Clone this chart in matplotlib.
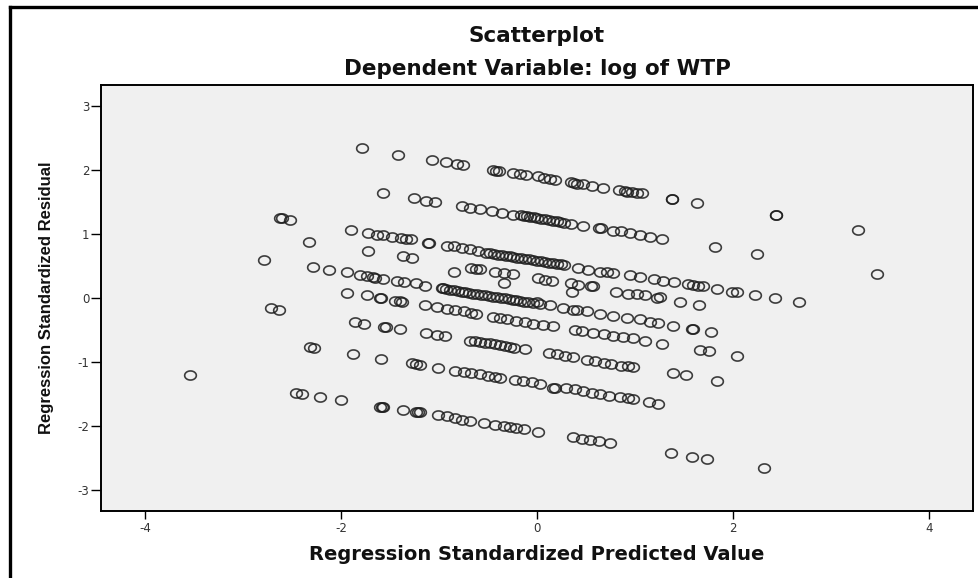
import numpy as np
import matplotlib
matplotlib.use("Agg")
import matplotlib.pyplot as plt
from matplotlib.path import Path
from matplotlib.lines import Line2D

# ---------------- data ----------------
band1 = [(-1.79, 2.34), (-1.415, 2.24), (-1.07, 2.16), (-0.93, 2.12), (-0.82, 2.09), (-0.76, 2.08),
         (-0.45, 2.00), (-0.42, 1.99), (-0.39, 1.98), (-0.24, 1.96), (-0.17, 1.94), (-0.11, 1.92),
         (0.01, 1.90), (0.07, 1.87), (0.13, 1.855), (0.18, 1.84), (0.35, 1.81), (0.38, 1.80),
         (0.41, 1.79), (0.47, 1.78), (0.56, 1.75), (0.67, 1.72), (0.84, 1.69), (0.90, 1.67),
         (0.92, 1.66), (0.97, 1.65), (1.02, 1.645), (1.07, 1.64), (1.38, 1.55), (1.38, 1.55),
         (1.63, 1.49), (2.44, 1.29), (2.44, 1.29), (3.28, 1.07)]

band2 = [(-1.57, 1.64), (-1.26, 1.56), (-1.13, 1.52), (-1.04, 1.50), (-0.77, 1.44), (-0.68, 1.41),
         (-0.58, 1.385), (-0.46, 1.365), (-0.36, 1.33), (-0.25, 1.30), (-0.16, 1.29), (-0.13, 1.28),
         (-0.10, 1.275), (-0.07, 1.27), (-0.03, 1.26), (0.00, 1.25), (0.04, 1.24), (0.08, 1.23),
         (0.12, 1.22), (0.16, 1.21), (0.20, 1.20), (0.235, 1.195), (0.28, 1.18), (0.35, 1.16),
         (0.47, 1.125), (0.63, 1.09), (0.65, 1.09), (0.78, 1.05), (0.86, 1.04), (0.95, 1.01),
         (1.05, 0.98), (1.15, 0.96), (1.28, 0.93), (1.82, 0.79), (2.25, 0.69), (3.47, 0.38)]

band3 = [(-2.62, 1.25), (-2.60, 1.25), (-2.52, 1.22), (-1.90, 1.06), (-1.72, 1.01), (-1.63, 0.99),
         (-1.57, 0.98), (-1.48, 0.96), (-1.39, 0.94), (-1.34, 0.93), (-1.29, 0.92), (-1.11, 0.865),
         (-1.10, 0.865), (-0.92, 0.82), (-0.85, 0.81), (-0.77, 0.78), (-0.68, 0.76), (-0.60, 0.74),
         (-0.52, 0.71), (-0.48, 0.70), (-0.44, 0.69), (-0.40, 0.68), (-0.36, 0.67), (-0.32, 0.66),
         (-0.28, 0.65), (-0.24, 0.64), (-0.20, 0.63), (-0.16, 0.62), (-0.12, 0.615), (-0.08, 0.605),
         (-0.04, 0.595), (0.00, 0.585), (0.04, 0.575), (0.08, 0.565), (0.12, 0.555), (0.16, 0.545),
         (0.20, 0.535), (0.24, 0.525), (0.28, 0.515), (0.42, 0.47), (0.52, 0.44), (0.64, 0.41),
         (0.71, 0.40), (0.78, 0.385), (0.95, 0.36), (1.05, 0.33), (1.19, 0.29), (1.29, 0.27),
         (1.40, 0.245), (1.54, 0.22), (1.595, 0.20), (1.64, 0.19), (1.69, 0.18), (1.84, 0.14),
         (1.99, 0.10), (2.04, 0.09), (2.22, 0.05), (2.43, 0.0), (2.67, -0.07)]

band3b = [(-2.33, 0.88), (-1.72, 0.73), (-1.37, 0.65), (-1.28, 0.63), (-0.67, 0.47), (-0.62, 0.46),
          (-0.58, 0.45), (-0.43, 0.41), (-0.34, 0.385), (-0.24, 0.37), (0.01, 0.31), (0.08, 0.28),
          (0.15, 0.265), (0.35, 0.23), (0.42, 0.21), (0.55, 0.18), (0.57, 0.18), (0.81, 0.10),
          (0.93, 0.07), (1.02, 0.06), (1.10, 0.05), (1.22, 0.005), (1.255, 0.01), (1.46, -0.06),
          (1.65, -0.11)]

loose = [(-0.85, 0.41), (-0.34, 0.23), (0.36, 0.10)]

band4 = [(-2.79, 0.60), (-2.29, 0.48), (-2.12, 0.44), (-1.94, 0.40), (-1.81, 0.36), (-1.74, 0.35),
         (-1.67, 0.33), (-1.65, 0.32), (-1.57, 0.30), (-1.43, 0.27), (-1.36, 0.25), (-1.24, 0.23),
         (-1.14, 0.19), (-0.97, 0.15), (-0.96, 0.15), (-0.93, 0.14), (-0.89, 0.13), (-0.85, 0.12),
         (-0.81, 0.11), (-0.77, 0.10), (-0.73, 0.09), (-0.69, 0.08), (-0.65, 0.07), (-0.61, 0.06),
         (-0.57, 0.05), (-0.53, 0.04), (-0.49, 0.03), (-0.45, 0.02), (-0.41, 0.01), (-0.37, 0.0),
         (-0.33, -0.005), (-0.29, -0.015), (-0.25, -0.025), (-0.21, -0.035), (-0.17, -0.045),
         (-0.13, -0.055), (-0.09, -0.065), (-0.04, -0.075), (0.0, -0.07), (0.03, -0.09),
         (0.13, -0.11), (0.27, -0.15), (0.37, -0.18), (0.405, -0.19), (0.51, -0.21), (0.64, -0.245),
         (0.78, -0.275), (0.915, -0.31), (1.05, -0.33), (1.15, -0.37), (1.24, -0.39), (1.39, -0.44),
         (1.58, -0.48), (1.59, -0.48), (1.78, -0.53)]

band5 = [(-1.94, 0.08), (-1.74, 0.04), (-1.60, 0.0), (-1.59, 0.0), (-1.45, -0.04), (-1.40, -0.05),
         (-1.38, -0.06), (-1.14, -0.11), (-1.02, -0.14), (-0.92, -0.17), (-0.84, -0.19), (-0.75, -0.21),
         (-0.67, -0.23), (-0.62, -0.25), (-0.45, -0.29), (-0.38, -0.31), (-0.31, -0.33), (-0.21, -0.36),
         (-0.12, -0.38), (-0.04, -0.40), (0.06, -0.42), (0.16, -0.44), (0.39, -0.50), (0.46, -0.52),
         (0.57, -0.54), (0.68, -0.57), (0.78, -0.59), (0.88, -0.61), (0.98, -0.63), (1.10, -0.67),
         (1.28, -0.72), (1.66, -0.81), (1.76, -0.83), (2.04, -0.91)]

band6 = [(-2.72, -0.16), (-2.63, -0.18), (-1.86, -0.37), (-1.77, -0.40), (-1.56, -0.45), (-1.54, -0.45),
         (-1.40, -0.48), (-1.13, -0.55), (-1.02, -0.58), (-0.94, -0.60), (-0.68, -0.67), (-0.63, -0.68),
         (-0.58, -0.69), (-0.53, -0.70), (-0.48, -0.71), (-0.43, -0.72), (-0.38, -0.74), (-0.33, -0.75),
         (-0.28, -0.76), (-0.23, -0.78), (-0.12, -0.80), (0.12, -0.86), (0.20, -0.88), (0.29, -0.90),
         (0.37, -0.93), (0.51, -0.97), (0.59, -0.98), (0.68, -1.01), (0.76, -1.03), (0.86, -1.06),
         (0.93, -1.07), (0.98, -1.08), (1.39, -1.18), (1.52, -1.21), (1.84, -1.29)]

band7 = [(-2.32, -0.77), (-2.28, -0.78), (-1.88, -0.875), (-1.59, -0.95), (-1.28, -1.02), (-1.24, -1.03),
         (-1.19, -1.04), (-1.01, -1.10), (-0.84, -1.14), (-0.75, -1.15), (-0.67, -1.18), (-0.58, -1.19),
         (-0.50, -1.22), (-0.43, -1.24), (-0.38, -1.255), (-0.22, -1.28), (-0.14, -1.30), (-0.05, -1.32),
         (0.03, -1.35), (0.16, -1.40), (0.18, -1.40), (0.30, -1.41), (0.39, -1.43), (0.47, -1.45),
         (0.56, -1.48), (0.64, -1.50), (0.73, -1.53), (0.85, -1.54), (0.93, -1.57), (0.98, -1.58),
         (1.14, -1.62), (1.24, -1.65)]

band8 = [(-3.54, -1.21), (-2.46, -1.48), (-2.40, -1.50), (-2.21, -1.54), (-2.00, -1.59), (-1.60, -1.70),
         (-1.58, -1.70), (-1.57, -1.70), (-1.37, -1.75), (-1.24, -1.78), (-1.21, -1.79), (-1.19, -1.79),
         (-1.01, -1.83), (-0.92, -1.85), (-0.84, -1.88), (-0.77, -1.90), (-0.68, -1.92), (-0.54, -1.96),
         (-0.43, -1.98), (-0.34, -2.00), (-0.28, -2.02), (-0.21, -2.04), (-0.13, -2.05), (0.01, -2.09),
         (0.37, -2.18), (0.46, -2.20), (0.54, -2.22), (0.63, -2.24), (0.74, -2.27), (1.37, -2.43),
         (1.585, -2.48), (1.735, -2.52), (2.32, -2.66)]

x_ticks = [-4, -2, 0, 2, 4]
y_ticks = [-3, -2, -1, 0, 1, 2, 3]
title_1 = "Scatterplot"
title_2 = "Dependent Variable: log of WTP"
x_label = "Regression Standardized Predicted Value"
y_label = "Regression Standardized Residual"

# ---------------- figure ----------------
W, H = 979, 578
fig = plt.figure(figsize=(W / 100, H / 100), dpi=100, facecolor="white")

left, right, top, bottom = 101, 973, 85, 511
ax = fig.add_axes([left / W, 1 - bottom / H, (right - left) / W, (bottom - top) / H])
ax.set_facecolor("#f0f0f0")
ax.set_xlim(-4.45, 4.45)
ax.set_ylim(-3.33, 3.33)

# slightly flattened open circle marker (the source image is horizontally stretched)
theta = np.linspace(0, 2 * np.pi, 64)
ell = Path(np.column_stack([np.cos(theta), 0.78 * np.sin(theta)]), closed=True)

for band in [band1, band2, band3, band3b, loose, band4, band5, band6, band7, band8]:
    xs, ys = zip(*band)
    ax.plot(xs, ys, linestyle="none", marker=ell, markersize=8.4,
            markerfacecolor="none", markeredgecolor="#1e1e1e", markeredgewidth=1.2, alpha=0.85)

for s in ax.spines.values():
    s.set_color("black")
    s.set_linewidth(1.4)

ax.set_xticks(x_ticks)
ax.set_yticks(y_ticks)
ax.set_xticklabels([str(v) for v in x_ticks])
ax.set_yticklabels([str(v) for v in y_ticks])
ax.tick_params(axis="x", direction="out", length=6, width=1.0, color="black",
               labelsize=8.5, labelcolor="#333333", pad=2)
ax.tick_params(axis="y", direction="out", length=7, width=1.0, color="black",
               labelsize=8.5, labelcolor="#333333", pad=1.5)
for lab in ax.get_xticklabels() + ax.get_yticklabels():
    lab.set_family("DejaVu Sans")

# titles and axis labels
fig.text(537 / W, 1 - 36 / H, title_1, ha="center", va="center",
         fontsize=15.5, fontweight="bold", family="DejaVu Sans", color="#111111")
fig.text(537 / W, 1 - 69 / H, title_2, ha="center", va="center",
         fontsize=15.5, fontweight="bold", family="DejaVu Sans", color="#111111")
fig.text(537 / W, 1 - 554 / H, x_label, ha="center", va="center",
         fontsize=14, fontweight="bold", family="DejaVu Sans", color="#111111")
fig.text(47 / W, 1 - 298 / H, y_label, ha="center", va="center", rotation=90,
         fontsize=12, fontweight="bold", family="Liberation Sans", color="#111111")

# outer frame (left and top edges visible in the source)
fig.add_artist(Line2D([10 / W, 10 / W], [0, 1 - 7 / H], transform=fig.transFigure,
                      color="black", linewidth=2.4))
fig.add_artist(Line2D([10 / W, 1.0], [1 - 7 / H, 1 - 7 / H], transform=fig.transFigure,
                      color="black", linewidth=2.4))

fig.savefig("out.png", dpi=100, facecolor="white")
